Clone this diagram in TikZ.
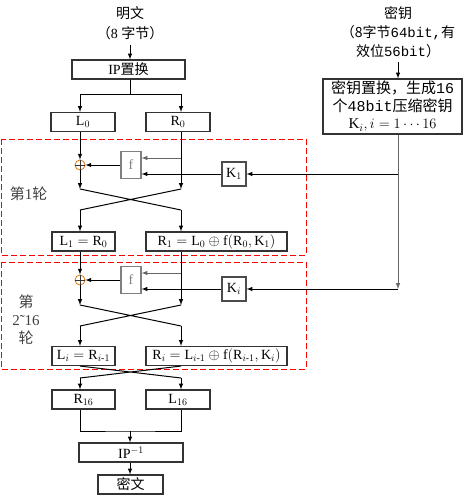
\documentclass[tikz,border=0pt]{standalone}
\usepackage{amsmath}
\usepackage{fontspec}
\setmainfont{Liberation Serif}
\setmonofont{Liberation Mono}
\newfontfamily\cjk{Noto Sans CJK SC}
\usetikzlibrary{calc}

\begin{document}
\begin{tikzpicture}[x=1pt,y=-1pt,>=latex]
\tikzstyle{desbox}=[draw=black!80,line width=1.1pt,minimum height=19pt,inner sep=0pt]
\tikzstyle{fbox}=[draw=gray,line width=1.1pt,text=gray,minimum width=20pt,minimum height=27pt,inner sep=0pt]
\tikzstyle{keybox}=[draw=black!70,line width=1.1pt,minimum size=24pt,inner sep=0pt]
\tikzstyle{xorsym}=[circle,draw=orange!90!black,line width=0.8pt,minimum size=10pt,inner sep=0pt]
\tikzstyle{roundframe}=[draw=red,dash pattern=on 6pt off 3pt,line width=1pt]
\tikzstyle{wire}=[line width=1pt]
\tikzstyle{lbl}=[text=black!75,align=center]

\fontsize{14}{17}\selectfont

\useasboundingbox (0,0) rectangle (474,495);

%% columns
\coordinate (xl) at (80,0);
\coordinate (xr) at (181,0);
\coordinate (kcol) at (398,0);

%% plaintext and IP
\node (pt) at (130,13) {\cjk 明文};
\node (ptlen) at (130,33) {{\cjk （}8 {\cjk 字节）}};
\node[desbox,minimum width=113pt] (ip) at (128.5,69.5) {IP{\cjk 置换}};
\node[desbox,minimum width=64pt] (L0) at (83,122) {$\mathrm{L}_0$};
\node[desbox,minimum width=64pt] (R0) at (178,122) {$\mathrm{R}_0$};

\coordinate (ipsplit) at (130,94);
\draw[->,wire] (ptlen.south) -- (ptlen.south |- ip.north);
\draw[wire] (ip.south -| ipsplit) -- (ipsplit);
\draw[->,wire] (ipsplit) -| (L0.north -| xl);
\draw[->,wire] (ipsplit) -| (R0.north -| xr);

%% round 1
\draw[roundframe] (1,139) rectangle (306,255);
\node[lbl,anchor=west,font=\fontsize{15}{18}\selectfont] (r1lbl) at (5,194) {{\cjk 第}1{\cjk 轮}};
\node[xorsym] (x1) at (80,165) {};
\draw[black!80,line width=0.7pt] (x1.north) -- (x1.south) (x1.west) -- (x1.east);
\node[fbox] (f1) at (131,165) {f};
\node[keybox] (K1) at (234,174) {$\mathrm{K}_1$};
\coordinate (a1) at (80,189);
\coordinate (b1) at (181,189);
\coordinate (a1d) at (80,210);
\coordinate (b1d) at (181,210);
\coordinate (f1in) at ($(f1.east)+(0,-7)$);
\node[desbox,minimum width=63pt] (L1) at (83.5,241.5) {$\mathrm{L}_1=\mathrm{R}_0$};
\node[desbox,minimum width=141pt] (R1) at (216.5,241.5)
  {$\mathrm{R}_1=\mathrm{L}_0\oplus\mathrm{f}(\mathrm{R}_0,\mathrm{K}_1)$};

\draw[->,wire] (L0.south -| xl) -- (x1);
\draw[->,wire] (x1) -- (a1);
\draw[->,wire] (R0.south -| xr) -- (b1);
\draw[->,wire,black!60] (f1in -| xr) -- (f1in);
\draw[->,wire] (K1) -- (f1.east |- K1);
\draw[->,wire] (f1) -- (x1);
\draw[wire] (a1) -- (b1d) (b1) -- (a1d);
\draw[->,wire] (a1d) -- (L1.north -| a1d);
\draw[->,wire] (b1d) -- (R1.north -| b1d);

%% rounds 2 ~ 16
\draw[roundframe] (1,262) rectangle (306,369);
\node[lbl,font=\fontsize{15}{18}\selectfont] (r2lbl) at (26,320)
  {{\cjk 第}\\2\symbol{"02DC}16\\{\cjk 轮}};
\node[xorsym] (x2) at (80,280) {};
\draw[black!80,line width=0.7pt] (x2.north) -- (x2.south) (x2.west) -- (x2.east);
\node[fbox] (f2) at (131,280) {f};
\node[keybox] (Ki) at (234,289) {$\mathrm{K}_i$};
\coordinate (a2) at (80,305);
\coordinate (b2) at (181,305);
\coordinate (a2d) at (80,326);
\coordinate (b2d) at (181,326);
\coordinate (f2in) at ($(f2.east)+(0,-7)$);
\node[desbox,minimum width=63pt] (Li) at (83.5,356) {$\mathrm{L}_i=\mathrm{R}_{i\text{-}1}$};
\node[desbox,minimum width=141pt] (Ri) at (216.5,356)
  {$\mathrm{R}_i=\mathrm{L}_{i\text{-}1}\oplus\mathrm{f}(\mathrm{R}_{i\text{-}1},\mathrm{K}_i)$};

\draw[->,wire] (L1.south -| xl) -- (x2);
\draw[->,wire] (x2) -- (a2);
\draw[->,wire] (R1.south -| xr) -- (b2);
\draw[->,wire,black!60] (f2in -| xr) -- (f2in);
\draw[->,wire] (Ki) -- (f2.east |- Ki);
\draw[->,wire] (f2) -- (x2);
\draw[wire] (a2) -- (b2d) (b2) -- (a2d);
\draw[->,wire] (a2d) -- (Li.north -| a2d);
\draw[->,wire] (b2d) -- (Ri.north -| b2d);

%% final swap and IP^-1
\coordinate (a3) at (80,378);
\coordinate (b3) at (181,378);
\node[desbox,minimum width=63pt] (R16) at (83.5,399.5) {$\mathrm{R}_{16}$};
\node[desbox,minimum width=64pt] (L16) at (178,399.5) {$\mathrm{L}_{16}$};
\coordinate (mrg) at (130,431);
\node[desbox,minimum width=104pt] (ipinv) at (131,452.5) {IP$^{-1}$};
\node[desbox,minimum width=65pt] (ct) at (130.5,484.5) {\cjk 密文};

\draw[wire] (Li.south -| xl) -- (b3) (Ri.south -| xr) -- (a3);
\draw[->,wire] (a3) -- (R16.north -| a3);
\draw[->,wire] (b3) -- (L16.north -| b3);
\draw[wire] (R16.south -| xl) |- (mrg) -| (L16.south -| xr);
\draw[->,wire] (mrg) -- (ipinv.north -| mrg);
\draw[->,wire] (ipinv.south -| mrg) -- (ct.north -| mrg);

%% key schedule
\node[align=center,font={\fontsize{14}{19}\selectfont}] (key) at (398,32)
  {{\cjk 密钥}\\{\cjk （8字节}\texttt{64bit,}{\cjk 有}\\{\cjk 效位}\texttt{56bit}{\cjk ）}};
\node[desbox,minimum width=139pt,minimum height=55pt,align=center,
  font={\fontsize{15}{17.5}\selectfont}] (kp) at (392.5,106.5)
  {{\cjk 密钥置换，生成}\texttt{16}\\{\cjk 个}\texttt{48bit}{\cjk 压缩密钥}\\$\mathrm{K}_i, i=1\cdots16$};

\draw[->,wire] (key.south -| kcol) -- (kp.north -| kcol);
\draw[->,wire,black!60] (kp.south -| kcol) -- (kcol |- Ki);
\draw[->,wire] (kcol |- Ki) -- (Ki);
\draw[->,wire] (kcol |- K1) -- (K1);

\end{tikzpicture}
\end{document}
